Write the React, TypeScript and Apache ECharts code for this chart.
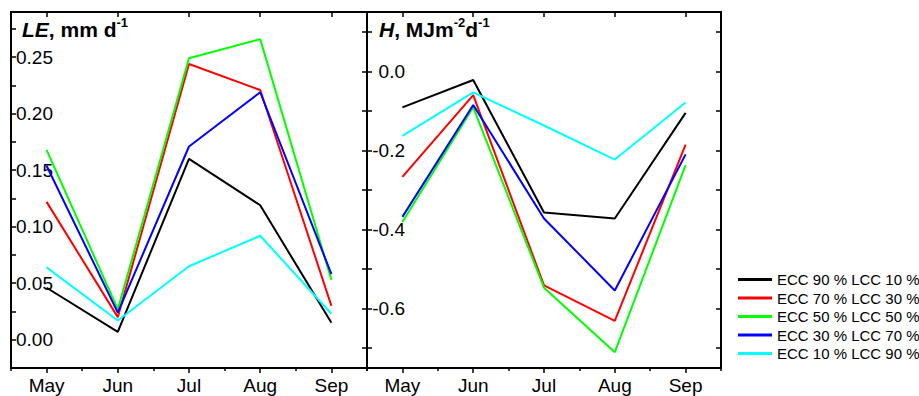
import React, { useEffect, useRef } from "react";
import * as echarts from "echarts";

const months = ["May", "Jun", "Jul", "Aug", "Sep"];
const seriesNames = [
  "ECC 90 % LCC 10 %",
  "ECC 70 % LCC 30 %",
  "ECC 50 % LCC 50 %",
  "ECC 30 % LCC 70 %",
  "ECC 10 % LCC 90 %",
];
const seriesColors = ["#000000", "#ff0000", "#00ff00", "#0000ff", "#00ffff"];

// LE, mm d-1
const leEcc90 = [0.046, 0.007, 0.16, 0.119, 0.015];
const leEcc70 = [0.122, 0.02, 0.244, 0.221, 0.03];
const leEcc50 = [0.168, 0.027, 0.249, 0.266, 0.053];
const leEcc30 = [0.154, 0.024, 0.171, 0.219, 0.058];
const leEcc10 = [0.064, 0.017, 0.065, 0.092, 0.023];

// H, MJ m-2 d-1
const hEcc90 = [-0.091, -0.022, -0.357, -0.372, -0.105];
const hEcc70 = [-0.267, -0.06, -0.541, -0.631, -0.185];
const hEcc50 = [-0.381, -0.091, -0.547, -0.71, -0.237];
const hEcc30 = [-0.368, -0.085, -0.372, -0.554, -0.21];
const hEcc10 = [-0.163, -0.053, -0.137, -0.223, -0.079];

const leTickLabels = [0, 0.05, 0.1, 0.15, 0.2, 0.25];
const leTicks = [0, 0.025, 0.05, 0.075, 0.1, 0.125, 0.15, 0.175, 0.2, 0.225, 0.25, 0.275];
const hTickLabels = [-0.6, -0.4, -0.2, 0];
const hTicks = [-0.7, -0.6, -0.5, -0.4, -0.3, -0.2, -0.1, 0, 0.1];

const leData = [leEcc90, leEcc70, leEcc50, leEcc30, leEcc10];
const hData = [hEcc90, hEcc70, hEcc50, hEcc30, hEcc10];

const FONT = "'Liberation Sans', Arial, sans-serif";

export default function App() {
  const ref = useRef<HTMLDivElement>(null);
  useEffect(() => {
    if (!ref.current) return;
    const chart = echarts.init(ref.current, undefined, { renderer: "svg" });

    const grids = [
      { left: 11, top: 12, width: 356, height: 356 },
      { left: 367, top: 12, width: 354, height: 356 },
    ];

    const tickStyle = { color: "#000", width: 1.5 };
    const xAxes: any[] = [];
    grids.forEach((_, gi) => {
      xAxes.push({
        type: "category",
        gridIndex: gi,
        position: "bottom",
        data: months,
        boundaryGap: true,
        axisLine: { show: false, onZero: false },
        axisTick: { show: true, alignWithLabel: true, inside: false, length: 5, lineStyle: tickStyle },
        axisLabel: { show: true, color: "#000", fontSize: 19, fontFamily: FONT, margin: 8 },
        splitLine: { show: false },
      });
      xAxes.push({
        type: "category",
        gridIndex: gi,
        position: "bottom",
        data: months,
        boundaryGap: true,
        axisLine: { show: false, onZero: false },
        axisTick: { show: true, alignWithLabel: false, inside: false, length: 3, lineStyle: tickStyle },
        axisLabel: { show: false },
        splitLine: { show: false },
      });
      xAxes.push({
        type: "category",
        gridIndex: gi,
        position: "top",
        data: months,
        boundaryGap: true,
        axisLine: { show: false, onZero: false },
        axisTick: { show: true, alignWithLabel: true, inside: true, length: 5, lineStyle: tickStyle },
        axisLabel: { show: false },
        splitLine: { show: false },
      });
    });

    const yAxes: any[] = [
      {
        type: "value",
        gridIndex: 0,
        position: "left",
        min: -0.025,
        max: 0.29,
        axisLine: { show: false, onZero: false },
        splitLine: { show: false },
        axisTick: { show: true, inside: true, length: 5, customValues: leTicks, lineStyle: tickStyle },
        axisLabel: {
          show: true,
          inside: true,
          align: "right",
          margin: 42,
          color: "#000",
          fontSize: 19,
          fontFamily: FONT,
          customValues: leTickLabels,
          formatter: (v: number) => v.toFixed(2),
        },
      },
      {
        type: "value",
        gridIndex: 0,
        position: "right",
        min: -0.75,
        max: 0.15,
        axisLine: { show: false, onZero: false },
        splitLine: { show: false },
        axisTick: { show: true, inside: true, length: 5, customValues: hTicks, lineStyle: tickStyle },
        axisLabel: { show: false },
      },
      {
        type: "value",
        gridIndex: 1,
        position: "left",
        min: -0.75,
        max: 0.15,
        axisLine: { show: false, onZero: false },
        splitLine: { show: false },
        axisTick: { show: true, inside: true, length: 5, customValues: hTicks, lineStyle: tickStyle },
        axisLabel: {
          show: true,
          inside: true,
          align: "right",
          margin: 38,
          color: "#000",
          fontSize: 19,
          fontFamily: FONT,
          customValues: hTickLabels,
          formatter: (v: number) => v.toFixed(1),
        },
      },
      {
        type: "value",
        gridIndex: 1,
        position: "right",
        min: -0.75,
        max: 0.15,
        axisLine: { show: false, onZero: false },
        splitLine: { show: false },
        axisTick: { show: true, inside: true, length: 5, customValues: hTicks, lineStyle: tickStyle },
        axisLabel: { show: false },
      },
    ];

    const series: any[] = [];
    seriesNames.forEach((name, i) => {
      series.push({
        type: "line",
        name,
        xAxisIndex: 0,
        yAxisIndex: 0,
        data: leData[i],
        symbol: "none",
        color: seriesColors[i],
        lineStyle: { width: 2, color: seriesColors[i] },
        z: 3,
      });
      series.push({
        type: "line",
        name,
        xAxisIndex: 3,
        yAxisIndex: 2,
        data: hData[i],
        symbol: "none",
        color: seriesColors[i],
        lineStyle: { width: 2, color: seriesColors[i] },
        z: 3,
      });
    });

    const richBase = {
      i: { fontFamily: FONT, fontSize: 21, fontWeight: "bold", fontStyle: "italic", lineHeight: 26, fill: "#000" },
      b: { fontFamily: FONT, fontSize: 21, fontWeight: "bold", lineHeight: 26, fill: "#000" },
      s: { fontFamily: FONT, fontSize: 13, fontWeight: "bold", lineHeight: 17, verticalAlign: "top", fill: "#000" },
    };

    chart.setOption({
      animation: false,
      backgroundColor: "#ffffff",
      grid: grids.map((g) => ({
        ...g,
        show: true,
        borderColor: "#000",
        borderWidth: 2,
        backgroundColor: "transparent",
      })),
      xAxis: xAxes,
      yAxis: yAxes,
      legend: {
        data: seriesNames,
        orient: "vertical",
        left: 738,
        top: 272,
        padding: 0,
        itemWidth: 34,
        itemHeight: 3,
        itemGap: 3.5,
        icon: "rect",
        selectedMode: false,
        textStyle: { color: "#000", fontSize: 15, fontFamily: FONT },
      },
      graphic: [
        {
          type: "text",
          x: 22,
          y: 16,
          style: { text: "{i|LE}{b|, mm d}{s|-1}", rich: richBase, verticalAlign: "top" },
          z: 10,
        },
        {
          type: "text",
          x: 379,
          y: 16,
          style: { text: "{i|H}{b|, MJm}{s|-2}{b|d}{s|-1}", rich: richBase, verticalAlign: "top" },
          z: 10,
        },
      ],
      series,
    });

    return () => chart.dispose();
  }, []);

  return (
    <div
      ref={ref}
      style={{ position: "absolute", left: 0, top: 0, width: 919, height: 396, background: "#fff" }}
    />
  );
}
